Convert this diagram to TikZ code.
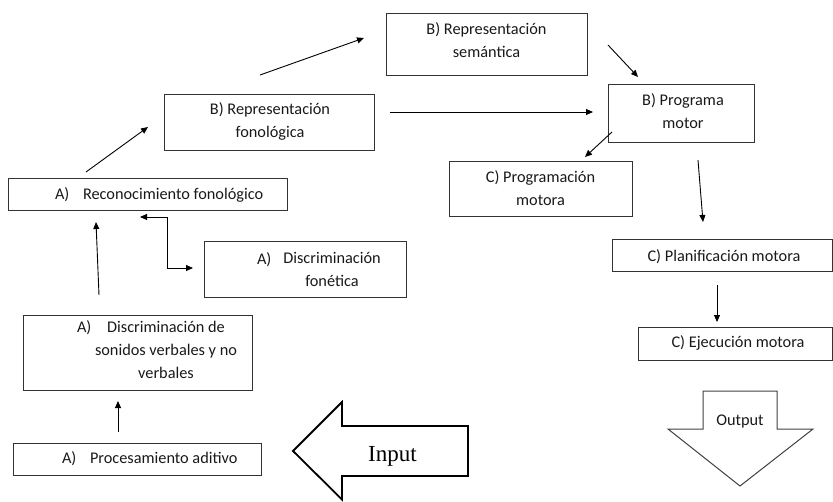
\documentclass[tikz,border=0pt]{standalone}
\usepackage{fontspec}
\setmainfont{Carlito}
\newfontfamily\inputserif{Liberation Serif}
\usetikzlibrary{arrows.meta}
\begin{document}
\begin{tikzpicture}[x=1pt,y=-1pt,
  box/.style={draw=black!80, line width=0.9pt, inner sep=0pt, outer sep=0pt},
  lbl/.style={font=\fontsize{16.3}{22.5}\selectfont, inner sep=0pt, outer sep=0pt, align=center, text=black!90},
  arr/.style={-{Triangle[length=7pt,width=6pt]}, line width=0.9pt},
  bigarrow/.style={draw=black, line width=1.8pt, line join=miter},
  outarrow/.style={draw=black!75, line width=1pt, line join=miter},
]
\useasboundingbox (0,0) rectangle (833,501);

% boxes
\node[box, minimum width=201pt, minimum height=62pt] (sem) at (486.5,44) {};
\node[box, minimum width=210pt, minimum height=56pt] (fon) at (269,122) {};
\node[box, minimum width=146pt, minimum height=58pt] (prog) at (681,113) {};
\node[box, minimum width=183pt, minimum height=55pt] (progr) at (540.5,188.5) {};
\node[box, minimum width=279pt, minimum height=32pt] (rec) at (147.5,194) {};
\node[box, minimum width=202pt, minimum height=56pt] (disf) at (305,269) {};
\node[box, minimum width=229pt, minimum height=75pt] (dson) at (137.5,352.5) {};
\node[box, minimum width=248pt, minimum height=32pt] (proc) at (137,459) {};
\node[box, minimum width=220pt, minimum height=32pt] (plan) at (722,255) {};
\node[box, minimum width=194pt, minimum height=33pt] (ejec) at (735,343.5) {};

% texts (base anchor = baseline of the last line)
\node[lbl, anchor=base] (semT) at (486.5,57) {B) Representación\\semántica};
\node[lbl, anchor=base] (fonT) at (270,137) {B) Representación\\fonológica};
\node[lbl, anchor=base] (progT) at (683,128) {B) Programa\\motor};
\node[lbl, anchor=base] (progrT) at (540.5,205) {C) Programación\\motora};
\node[lbl, anchor=base west] (recA) at (55,199) {A)};
\node[lbl, anchor=base west] (recT) at (83,199) {Reconocimiento fonológico};
\node[lbl, anchor=base west] (disfA) at (257,264) {A)};
\node[lbl, anchor=base] (disfT) at (332,286) {Discriminación\\fonética};
\node[lbl, anchor=base west] (dsonA) at (77,332) {A)};
\node[lbl, anchor=base, font=\fontsize{16.3}{23}\selectfont] (dsonT) at (166,378) {Discriminación de\\sonidos verbales y no\\verbales};
\node[lbl, anchor=base west] (procA) at (62,463) {A)};
\node[lbl, anchor=base west] (procT) at (90,463) {Procesamiento aditivo};
\node[lbl, anchor=base] (planT) at (724,261) {C) Planificación motora};
\node[lbl, anchor=base] (ejecT) at (738,347) {C) Ejecución motora};

% arrow coordinates
\coordinate (a1s) at (86,172);   \coordinate (a1e) at (148,127);
\coordinate (a2s) at (260,75);   \coordinate (a2e) at (364,38);
\coordinate (a3s) at (390,112);  \coordinate (a3e) at (593,112);
\coordinate (a4s) at (608,45);   \coordinate (a4e) at (638,77);
\coordinate (a5s) at (612,132);  \coordinate (a5e) at (585,157);
\coordinate (a6s) at (698,160);  \coordinate (a6e) at (703,222);
\coordinate (a7s) at (717,285);  \coordinate (a7e) at (717,322);
\coordinate (a8s) at (99,295);   \coordinate (a8e) at (96,222);
\coordinate (a9s) at (118,432);  \coordinate (a9e) at (118,401);
\coordinate (e1) at (140,217);   \coordinate (e2) at (193,268);

\draw[arr] (a1s) -- (a1e);
\draw[arr] (a2s) -- (a2e);
\draw[arr] (a3s) -- (a3e);
\draw[arr] (a4s) -- (a4e);
\draw[arr] (a5s) -- (a5e);
\draw[arr] (a6s) -- (a6e);
\draw[arr] (a7s) -- (a7e);
\draw[arr] (a8s) -- (a8e);
\draw[arr] (a9s) -- (a9e);
\draw[{Triangle[length=7pt,width=6pt]}-{Triangle[length=7pt,width=6pt]}, line width=0.9pt]
  (e1) -- (167,217) -- (167,268) -- (e2);

% Input block arrow
\draw[bigarrow] (293,451) -- (342,402) -- (342,426) -- (468,426) -- (468,476)
  -- (342,476) -- (342,499.5) -- cycle;
\node[font=\inputserif\fontsize{23}{26}\selectfont, anchor=base, inner sep=0pt] (inT) at (392.5,461) {Input};

% Output block arrow
\draw[outarrow] (703,391) -- (777,391) -- (777,429) -- (813,429) -- (740,486)
  -- (668,429) -- (703,429) -- cycle;
\node[lbl, anchor=base] (outT) at (740,425) {Output};
\end{tikzpicture}
\end{document}
